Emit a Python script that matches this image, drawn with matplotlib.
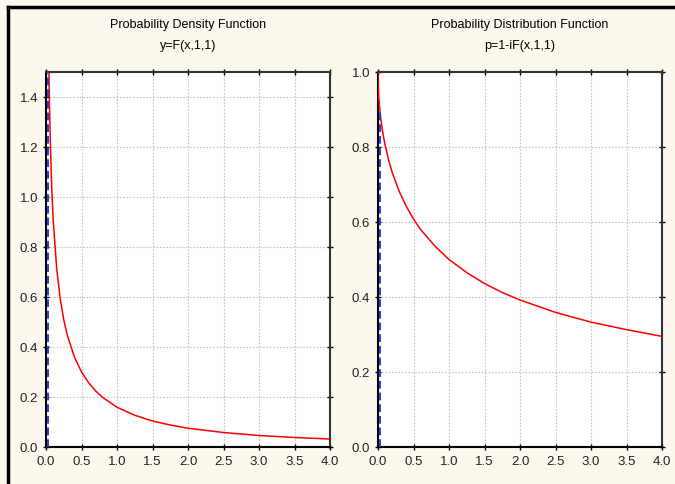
import matplotlib.pyplot as plt
from matplotlib.lines import Line2D

# values
x_pdf = [0.01, 0.02, 0.03, 0.04, 0.05, 0.06, 0.08, 0.1, 0.15, 0.2, 0.25, 0.3,
         0.4, 0.5, 0.6, 0.7, 0.8, 1.0, 1.25, 1.5, 1.75, 2.0, 2.5, 3.0, 3.5, 4.0]
y_pdf = [3.15, 2.21, 1.78, 1.53, 1.36, 1.23, 1.04, 0.915, 0.715, 0.593, 0.509, 0.447,
         0.360, 0.300, 0.257, 0.224, 0.198, 0.159, 0.127, 0.104, 0.088, 0.075, 0.058,
         0.046, 0.038, 0.032]

x_cdf = [0.0, 0.001, 0.005, 0.01, 0.02, 0.04, 0.06, 0.08, 0.1, 0.15, 0.2, 0.3, 0.4,
         0.5, 0.6, 0.8, 1.0, 1.25, 1.5, 1.75, 2.0, 2.5, 3.0, 3.5, 4.0]
y_cdf = [1.0, 0.980, 0.955, 0.937, 0.911, 0.874, 0.847, 0.825, 0.805, 0.765, 0.732,
         0.681, 0.641, 0.608, 0.580, 0.536, 0.500, 0.465, 0.436, 0.412, 0.392, 0.359,
         0.333, 0.313, 0.295]

x_mark = 0.025
mark_top = [1.5, 0.90]

titles = ["Probability Density Function", "Probability Distribution Function"]
subtitles = ["y=F(x,1,1)", "p=1-iF(x,1,1)"]
ylims = [1.5, 1.0]
yticks = [[0.0, 0.2, 0.4, 0.6, 0.8, 1.0, 1.2, 1.4], [0.0, 0.2, 0.4, 0.6, 0.8, 1.0]]
xticks = [0.0, 0.5, 1.0, 1.5, 2.0, 2.5, 3.0, 3.5, 4.0]

plt.rcParams['font.family'] = ['Liberation Sans', 'DejaVu Sans']
bg = '#fcf8ee'

fig = plt.figure(figsize=(6.75, 4.85), dpi=100, facecolor=bg)
# frame of the window (top and left edges)
fig.add_artist(Line2D([8 / 675, 1], [1 - 8 / 485, 1 - 8 / 485], color='black', lw=2.5))
fig.add_artist(Line2D([8 / 675, 8 / 675], [0, 1 - 8 / 485], color='black', lw=2.5))

lefts = [46 / 675, 378 / 675]
data = [(x_pdf, y_pdf), (x_cdf, y_cdf)]
for i in range(2):
    ax = fig.add_axes([lefts[i], 37 / 485, 284 / 675, 375 / 485])
    ax.set_facecolor('white')
    xs, ys = data[i]
    ax.plot(xs, ys, color='red', lw=1.1, zorder=3)
    ax.plot([x_mark, x_mark], [0, mark_top[i]], color='#2a3ad8', lw=1.4,
            ls=(0, (4, 2)), zorder=4)
    ax.set_xlim(0, 4)
    ax.set_ylim(0, ylims[i])
    ax.set_xticks(xticks)
    ax.set_xticklabels(['%.1f' % v for v in xticks])
    ax.set_yticks(yticks[i])
    ax.set_yticklabels(['%.1f' % v for v in yticks[i]])
    ax.grid(True, color='#c4c4c4', ls=(0, (1.5, 1.5)), lw=0.8)
    ax.tick_params(direction='inout', length=5, width=1, labelsize=9.5,
                   labelcolor='#222222', top=True, right=True, pad=3)
    for s in ['left', 'bottom']:
        ax.spines[s].set_color('black')
        ax.spines[s].set_linewidth(1.5)
    for s in ['top', 'right']:
        ax.spines[s].set_color('#333333')
        ax.spines[s].set_linewidth(1.5)
    cx = lefts[i] + 142 / 675
    fig.text(cx, 1 - 25 / 485, titles[i], ha='center', va='center', fontsize=9)
    fig.text(cx, 1 - 46 / 485, subtitles[i], ha='center', va='center', fontsize=9)

fig.savefig('out.png', dpi=100, facecolor=bg)
